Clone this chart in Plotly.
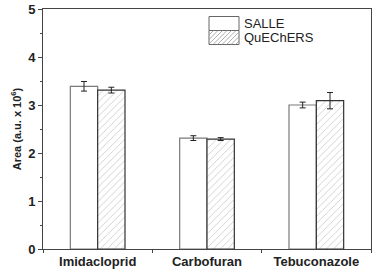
import plotly.graph_objects as go

categories = ["Imidacloprid", "Carbofuran", "Tebuconazole"]
salle = [3.39, 2.31, 3.00]
salle_err = [0.10, 0.05, 0.06]
quechers = [3.31, 2.29, 3.09]
quechers_err = [0.06, 0.03, 0.17]
series_names = ["SALLE", "QuEChERS"]

FONT = "Liberation Sans, Arial, sans-serif"
AX = "#444444"

fig = go.Figure()
fig.add_trace(go.Bar(
    x=categories, y=salle, name=series_names[0],
    marker=dict(color="white", line=dict(color="#7a7a7a", width=1.2)),
    error_y=dict(type="data", array=salle_err, color="#222", thickness=1, width=3),
))
fig.add_trace(go.Bar(
    x=categories, y=quechers, name=series_names[1],
    marker=dict(color="white", line=dict(color="#333", width=1.2),
                pattern=dict(shape="/", fgcolor="#8a8a8a", bgcolor="white", size=5, solidity=0.15)),
    error_y=dict(type="data", array=quechers_err, color="#222", thickness=1, width=3),
))

# manual legend (pixel-sized shapes anchored in paper coords)
W, H = 30, 14
ax0 = (209 - 43) / 328.0
shapes = []
for i, name in enumerate(series_names):
    top_px = 16.5 + i * 14
    ay = (249 - top_px) / 240.0
    shapes.append(dict(type="rect", xref="paper", yref="paper", xsizemode="pixel", ysizemode="pixel",
                       xanchor=ax0, yanchor=ay, x0=0, x1=W, y0=0, y1=-H,
                       line=dict(color="#666", width=1), fillcolor="white", layer="above"))
    if i == 1:
        path = ""
        step = 4.5
        c = -H
        while c < W:
            x_a, y_a = c, -H
            x_b, y_b = c + H, 0
            if x_a < 0:
                y_a = y_a - x_a
                x_a = 0
            if x_b > W:
                y_b = y_b - (x_b - W)
                x_b = W
            if x_b > x_a:
                path += f"M{x_a},{y_a} L{x_b},{y_b} "
            c += step
        shapes.append(dict(type="path", xref="paper", yref="paper", xsizemode="pixel", ysizemode="pixel",
                           xanchor=ax0, yanchor=ay, path=path,
                           line=dict(color="#999", width=0.8), layer="above"))
    fig.add_annotation(xref="paper", yref="paper", x=(242 - 43) / 328.0, y=(249 - top_px - 7) / 240.0,
                       text=name, showarrow=False, xanchor="left", yanchor="middle",
                       font=dict(family=FONT, size=13, color="#222"))

fig.update_layout(
    width=380, height=273,
    margin=dict(l=43, r=9, t=9, b=24),
    paper_bgcolor="white", plot_bgcolor="white",
    barmode="group", bargap=0.5, bargroupgap=0,
    showlegend=False,
    shapes=shapes,
    font=dict(family=FONT, color="#222"),
)
fig.update_xaxes(
    type="category", range=[-0.5, 2.5], tickson="boundaries",
    showline=True, linecolor=AX, linewidth=1, mirror=True,
    ticks="outside", ticklen=3, tickcolor=AX,
    tickfont=dict(family=FONT, size=13, color="#222", weight="bold"),
    showgrid=False, automargin=False,
)
fig.update_yaxes(
    range=[0, 5], dtick=1,
    showline=True, linecolor=AX, linewidth=1, mirror=True,
    ticks="outside", ticklen=4, tickcolor=AX,
    minor=dict(dtick=0.5, ticks="outside", ticklen=2, tickcolor=AX),
    tickfont=dict(family=FONT, size=13, color="#222", weight="bold"),
    showgrid=False, zeroline=False, automargin=False,
    title=dict(text="Area (a.u. x 10<sup>6</sup>)", standoff=4,
               font=dict(family=FONT, size=11, color="#222", weight="bold")),
)

fig.write_html("out.html", config={"displayModeBar": False, "staticPlot": True})

# remove the default page margin so the figure sits at the window's top-left corner
with open("out.html", "r", encoding="utf-8") as f:
    html = f.read()
html = html.replace("<head>", "<head><style>html,body{margin:0;padding:0;overflow:hidden;}</style>", 1)
with open("out.html", "w", encoding="utf-8") as f:
    f.write(html)
